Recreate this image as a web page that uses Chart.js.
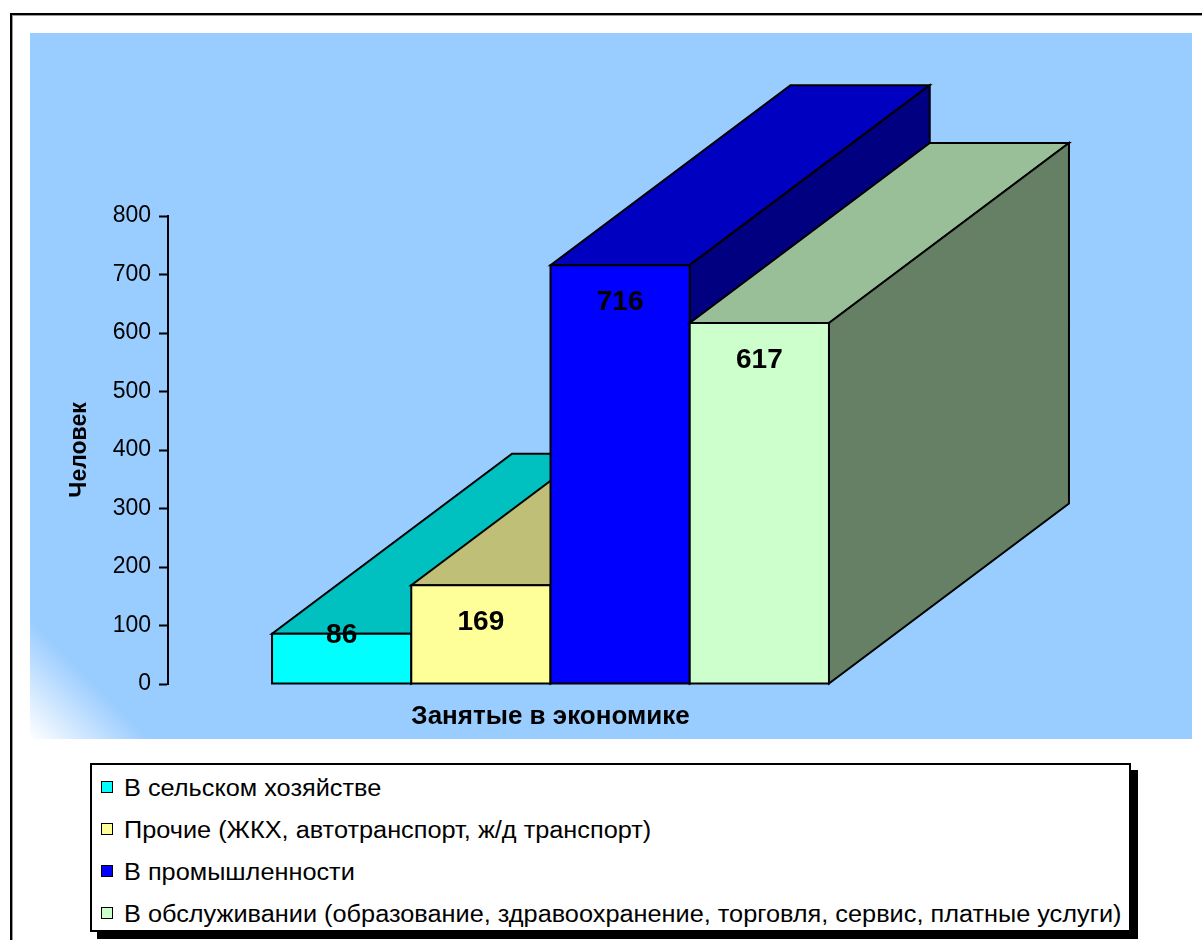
<!DOCTYPE html>
<html lang="ru">
<head>
<meta charset="utf-8">
<title>Занятые в экономике</title>
<script src="https://cdn.jsdelivr.net/npm/chart.js@4/dist/chart.umd.min.js"></script>
<style>
    body {
        margin: 0;
        width: 1202px;
        height: 940px;
        overflow: hidden;
        position: relative;
        background: #fff;
        font-family: Arial, "Liberation Sans", sans-serif;
    }
    .frame {
        position: absolute;
        left: 10px;
        top: 13px;
        width: 1200px;
        height: 940px;
        border-left: 2px solid #000;
        border-top: 2px solid #000;
        box-shadow: inset 1px 1px 0 #999;
    }
    .plot {
        position: absolute;
        left: 30px;
        top: 33px;
        width: 1162px;
        height: 706px;
        background: linear-gradient(45deg, #ffffff 0px, rgba(153, 204, 255, 0) 85px), #99ccff;
    }
    #chart {
        position: absolute;
        left: 0;
        top: 0;
    }
    .legend {
        position: absolute;
        left: 90px;
        top: 763px;
        width: 1037px;
        height: 164px;
        padding-top: 1px;
        border: 2px solid #000;
        box-shadow: 7px 7px 0 #000;
        background: #fff;
        box-sizing: content-box;
    }
    .legend-row {
        height: 42px;
        line-height: 42px;
        color: #000;
        white-space: nowrap;
    }
    .legend-row .sw {
        display: inline-block;
        width: 10px;
        height: 10px;
        border: 1px solid #000;
        margin-left: 9px;
        margin-right: 11px;
        vertical-align: middle;
        position: relative;
        top: -1px;
    }
    .legend-row .txt {
        display: inline-block;
        font-size: 23px;
        transform: scaleX(1.1);
        transform-origin: left center;
        vertical-align: middle;
        line-height: 42px;
    }
</style>
</head>
<body>
<div class="frame"></div>
<div class="plot">
    <canvas id="chart" width="1162" height="706"></canvas>
</div>
<div class="legend" id="legend"></div>

<script>
// данные
const categories = ['Занятые в экономике'];
const seriesNames = [
    'В сельском хозяйстве',
    'Прочие (ЖКХ, автотранспорт, ж/д транспорт)',
    'В промышленности',
    'В обслуживании (образование, здравоохранение, торговля, сервис, платные услуги)'
];
const seriesValues = [86, 169, 716, 617];
const yTicks = [0, 100, 200, 300, 400, 500, 600, 700, 800];

// цвета граней: лицевая, верх, бок
const frontColors = ['#00ffff', '#ffff99', '#0000ff', '#ccffcc'];
const topColors = ['#00c0c0', '#bfbf77', '#0000c0', '#99bf99'];
const sideColors = ['#008080', '#808060', '#000080', '#668066'];

// глубина объёма в пикселях
const DX = 240;
const DY = 180;

function poly(ctx, pts, fill) {
    ctx.beginPath();
    ctx.moveTo(pts[0][0], pts[0][1]);
    for (let k = 1; k < pts.length; k++) ctx.lineTo(pts[k][0], pts[k][1]);
    ctx.closePath();
    ctx.fillStyle = fill;
    ctx.fill();
    ctx.stroke();
}

// рисуем столбики как 3D-блоки
const bar3d = {
    id: 'bar3d',
    beforeDatasetsDraw(chart) {
        const ctx = chart.ctx;
        const boxes = [];
        chart.data.datasets.forEach((ds, i) => {
            const bar = chart.getDatasetMeta(i).data[0];
            const p = bar.getProps(['x', 'y', 'base', 'width'], true);
            const l = p.x - p.width / 2;
            const r = p.x + p.width / 2;
            const y = p.y;
            const b = p.base;
            ctx.save();
            ctx.lineWidth = 2;
            ctx.strokeStyle = '#000';
            ctx.lineJoin = 'miter';
            poly(ctx, [[l, y], [r, y], [r + DX, y - DY], [l + DX, y - DY]], topColors[i]);
            poly(ctx, [[r, y], [r + DX, y - DY], [r + DX, b - DY], [r, b]], sideColors[i]);
            poly(ctx, [[l, y], [r, y], [r, b], [l, b]], frontColors[i]);
            ctx.restore();
            boxes.push({ x: p.x, y: y, h: b - y, v: ds.data[0] });
        });
        // подписи значений
        ctx.save();
        ctx.font = 'bold 28px Arial, "Liberation Sans", sans-serif';
        ctx.fillStyle = '#000';
        ctx.textAlign = 'center';
        ctx.textBaseline = 'middle';
        boxes.forEach(bx => {
            const ly = bx.h > 80 ? bx.y + 37 : bx.y + 2;
            ctx.fillText(String(bx.v), bx.x, ly);
        });
        ctx.restore();
        return false;
    }
};

const datasets = seriesNames.map((name, i) => ({
    label: name,
    data: [seriesValues[i]],
    backgroundColor: frontColors[i],
    borderColor: '#000',
    borderWidth: 1
}));

Chart.defaults.font.family = 'Arial, "Liberation Sans", sans-serif';
Chart.defaults.color = '#000';

const ctx = document.getElementById('chart').getContext('2d');
new Chart(ctx, {
    type: 'bar',
    data: {
        labels: categories,
        datasets: datasets
    },
    options: {
        responsive: false,
        animation: false,
        devicePixelRatio: 1,
        layout: {
            padding: { left: 32, top: 183, right: 259, bottom: 0 }
        },
        datasets: {
            bar: {
                categoryPercentage: 0.728,
                barPercentage: 1
            }
        },
        scales: {
            x: {
                grid: { display: false },
                border: { display: false },
                ticks: { display: false },
                title: {
                    display: true,
                    text: categories[0],
                    font: { size: 26, weight: 'bold', lineHeight: 1.2 },
                    padding: { top: 4, bottom: 7 }
                },
                afterFit(scale) {
                    scale.height = 55;
                }
            },
            y: {
                min: yTicks[0],
                max: yTicks[yTicks.length - 1],
                afterBuildTicks(scale) {
                    scale.ticks = yTicks.map(v => ({ value: v }));
                },
                grid: {
                    drawOnChartArea: false,
                    drawTicks: true,
                    tickLength: 9,
                    tickWidth: 2,
                    tickColor: '#000'
                },
                border: { display: true, color: '#000', width: 2 },
                ticks: {
                    padding: 8,
                    font: { size: 23 },
                    color: '#000'
                },
                title: {
                    display: true,
                    text: 'Человек',
                    font: { size: 23, weight: 'bold', lineHeight: 1.2 },
                    padding: { top: 4, bottom: 4 }
                },
                afterFit(scale) {
                    scale.width = 106;
                }
            }
        },
        plugins: {
            legend: { display: false },
            tooltip: { enabled: false }
        }
    },
    plugins: [bar3d]
});

// легенда
const legendEl = document.getElementById('legend');
seriesNames.forEach((name, i) => {
    const row = document.createElement('div');
    row.className = 'legend-row';
    const sw = document.createElement('span');
    sw.className = 'sw';
    sw.style.background = frontColors[i];
    const txt = document.createElement('span');
    txt.className = 'txt';
    txt.textContent = name;
    row.appendChild(sw);
    row.appendChild(txt);
    legendEl.appendChild(row);
});
</script>
</body>
</html>
